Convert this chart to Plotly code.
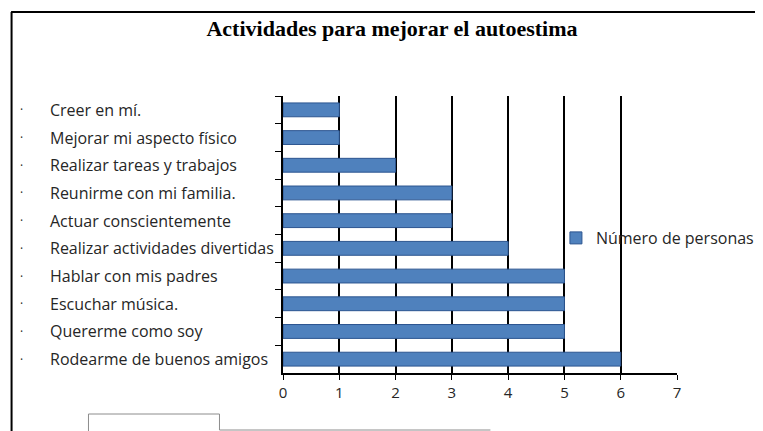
import plotly.graph_objects as go

categories = [
    "Creer en mí.",
    "Mejorar mi aspecto físico",
    "Realizar tareas y trabajos",
    "Reunirme con mi familia.",
    "Actuar conscientemente",
    "Realizar actividades divertidas",
    "Hablar con mis padres",
    "Escuchar música.",
    "Quererme como soy",
    "Rodearme de buenos amigos",
]
values = [1, 1, 2, 3, 3, 4, 5, 5, 5, 6]
series_name = "Número de personas"
title_text = "Actividades para mejorar el autoestima"
x_ticks = [0, 1, 2, 3, 4, 5, 6, 7]

W, H = 763, 431
OFF = 8  # page body margin
L, R, T, B = 283 - OFF, W - (680 - OFF), 96 - OFF, H - (373 - OFF)
PW, PH = W - L - R, H - T - B


def px_x(x):
    return (x - OFF - L) / PW


def px_y(y):
    return 1 - (y - OFF - T) / PH


fig = go.Figure()
fig.add_trace(go.Bar(
    y=categories, x=values, orientation="h", name=series_name,
    marker=dict(color="#4f81bd", line=dict(color="#2c5590", width=1)),
    showlegend=True,
))

label_font = dict(family="'Open Sans', 'Noto Sans', sans-serif", size=16, color="#262626")
for c in categories:
    fig.add_annotation(x=px_x(46), xref="paper", y=c, yref="y", text=c,
                       showarrow=False, xanchor="left", yanchor="middle",
                       font=label_font)
    fig.add_annotation(x=px_x(20), xref="paper", y=c, yref="y", text="·",
                       showarrow=False, xanchor="center", yanchor="middle",
                       font=dict(family="'Open Sans', sans-serif", size=12, color="#262626"))

shapes = [
    # outer frame
    dict(type="line", xref="paper", yref="paper", x0=px_x(9), x1=px_x(790),
         y0=px_y(12), y1=px_y(12), line=dict(color="black", width=2)),
    dict(type="line", xref="paper", yref="paper", x0=px_x(9.5), x1=px_x(9.5),
         y0=px_y(12), y1=px_y(460), line=dict(color="black", width=2)),
    # bottom gray tab
    dict(type="path", xref="paper", yref="paper",
         path=f"M {px_x(87)},{px_y(460)} L {px_x(87)},{px_y(414)} L {px_x(219)},{px_y(414)} "
              f"L {px_x(219)},{px_y(430)} L {px_x(492)},{px_y(430)}",
         line=dict(color="#8c8c8c", width=1)),
]

fig.update_layout(
    width=W, height=H,
    margin=dict(l=L, r=R, t=T, b=B),
    paper_bgcolor="white", plot_bgcolor="white",
    bargap=0.5,
    title=dict(text=f"<b>{title_text}</b>", x=(392 - OFF) / W, xref="container", xanchor="center",
               y=1 - (28 - OFF) / H, yref="container", yanchor="middle",
               font=dict(family="'Liberation Serif', 'Times New Roman', serif", size=22, color="black")),
    xaxis=dict(range=[0, 7], tickvals=x_ticks, showgrid=True, gridcolor="black", gridwidth=1.5,
               zeroline=False, showline=True, linecolor="black", linewidth=1.5,
               ticks="outside", ticklen=5, tickcolor="black",
               tickfont=dict(family="'Open Sans', 'Noto Sans', sans-serif", size=15, color="#262626")),
    yaxis=dict(autorange="reversed", showticklabels=False, showgrid=False,
               showline=True, linecolor="black", linewidth=1.5,
               ticks="outside", tickson="boundaries", ticklen=6, tickcolor="black"),
    legend=dict(x=px_x(558), y=px_y(238), xanchor="left", yanchor="middle",
                bgcolor="rgba(0,0,0,0)", itemwidth=30,
                font=dict(family="'Open Sans', 'Noto Sans', sans-serif", size=16, color="#262626")),
    shapes=shapes,
)

fig.write_html("out.html")
